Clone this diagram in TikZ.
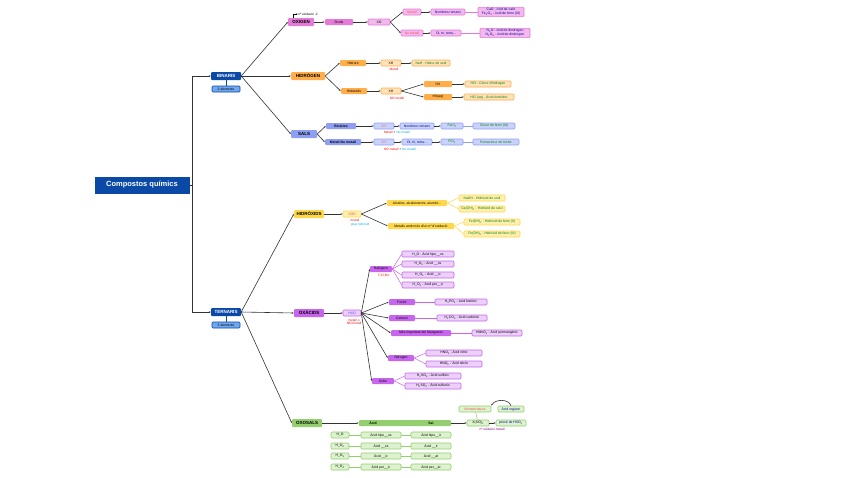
\documentclass[tikz,border=0pt]{standalone}
\usepackage{fontspec}
\setmainfont{Liberation Sans}
\usetikzlibrary{arrows.meta}
\definecolor{bl}{HTML}{0A4AA6}\definecolor{lb}{HTML}{6FA8F0}
\definecolor{pk}{HTML}{E57AD8}\definecolor{pkl}{HTML}{F3B8EE}
\definecolor{or}{HTML}{FFAE4A}\definecolor{orl}{HTML}{FFE2B8}
\definecolor{sa}{HTML}{8E9FF3}\definecolor{sal}{HTML}{C9D2FA}
\definecolor{ye}{HTML}{FFD84A}\definecolor{yel}{HTML}{FFF0B0}
\definecolor{pu}{HTML}{C865EE}\definecolor{pul}{HTML}{EDD0FA}
\definecolor{gr}{HTML}{93CF6E}\definecolor{grl}{HTML}{DDF2CF}
\tikzset{
 x=1pt,y=-1pt,
 main/.style={rounded corners=1pt, inner sep=1.5pt, minimum height=8pt, font=\fontsize{4.5}{5}\selectfont\bfseries},
 s/.style={rounded corners=1pt, inner sep=1pt, minimum height=6pt, line width=0.6pt, font=\fontsize{3.4}{3.8}\selectfont, align=center},
 lab/.style={font=\fontsize{3.2}{3.6}\selectfont, inner sep=0.5pt},
 c/.style={draw=black!80, line width=0.6pt, -{Stealth[length=2pt]}},
 cl/.style={draw=#1, line width=0.5pt},
}
\begin{document}
\begin{tikzpicture}
\useasboundingbox (0,0) rectangle (848,477);
\fill[white] (0,0) rectangle (848,477);
% root
\node[fill=bl,text=white,font=\fontsize{7.5}{8}\selectfont\bfseries,minimum width=95pt,minimum height=17pt,inner sep=1pt] (root) at (142,185) {Compostos químics};
\node[main,fill=bl,text=white,minimum width=30pt] (bin) at (226,76) {BINARIS};
\node[s,fill=lb,draw=bl,minimum width=28pt] (bin2) at (226,89) {2 elements};
\node[main,fill=bl,text=white,minimum width=30pt] (ter) at (226,312) {TERNARIS};
\node[s,fill=lb,draw=bl,minimum width=28pt] (ter2) at (226,325) {3 elements};
\draw[c] (root.east) -- ++(3,0) |- (bin.west);
\draw[c] (root.east) -- ++(3,0) |- (ter.west);
\draw[bl,line width=0.5pt] (bin) -- (bin2); \draw[bl,line width=0.5pt] (ter) -- (ter2);
% OXIGEN
\node[main,fill=pk,minimum width=26pt] (ox) at (301,22) {OXIGEN};
\node[lab] (oxl) at (308,14) {nº oxidació -2};
\draw[line width=0.4pt,-{Stealth[length=1.5pt]}] (ox.north west) ++(5,0) |- (oxl.west);
\node[s,fill=pk,minimum width=28pt] (oxd) at (339,22) {Òxids};
\node[s,fill=pkl,draw=pk,minimum width=22pt] (xo) at (379,22) {XO};
\node[s,fill=pkl,draw=pk,text=red!70,minimum width=18pt] (om) at (412,12) {Metall};
\node[s,fill=pkl,draw=pk,text=red!70,minimum width=22pt] (onm) at (412,33) {No metall};
\node[s,fill=pkl,draw=pk,text=blue!60!black,minimum width=34pt] (on1) at (448,12) {Nombres romans};
\node[s,fill=pkl,draw=pk,text=blue!60!black,minimum width=30pt] (on2) at (446,33) {Di, tri, tetra...};
\node[s,fill=pkl,draw=pk,text=blue!60!black,minimum width=46pt] (oe1) at (501,12) {CaO - òxid de calci\\Fe\textsubscript{2}O\textsubscript{3} - òxid de ferro (III)};
\node[s,fill=pkl,draw=pk,text=blue!60!black,minimum width=50pt] (oe2) at (505,33) {N\textsubscript{2}O - òxid de dinitrogen\\N\textsubscript{2}O\textsubscript{5} - òxid de dinitrogen};
\draw[c] (bin.east) -- (ox.west); \draw[c] (ox) -- (oxd); \draw[c] (oxd) -- (xo);
\draw[c] (xo.east) -- (om.west); \draw[c] (xo.east) -- (onm.west);
\draw[c] (om) -- (on1); \draw[c] (onm) -- (on2);
\draw[cl=pk] (on1) -- (oe1); \draw[cl=pk] (on2) -- (oe2);
% HIDROGEN
\node[main,fill=or,minimum width=34pt] (hi) at (308,76) {HIDRÒGEN};
\node[s,fill=or,minimum width=26pt] (hr) at (353,63) {Hidrurs};
\node[s,fill=orl,draw=or,minimum width=20pt] (xh1) at (391,63) {XH};
\node[lab,text=red] at (394,69) {Metall};
\node[s,fill=orl,draw=or,text=green!50!black,minimum width=38pt] (nah) at (431,63) {NaH - Hidrur de sodi};
\node[s,fill=or,minimum width=26pt] (ha) at (354,91) {Hidràcids};
\node[s,fill=orl,draw=or,minimum width=20pt] (xh2) at (391,91) {XH};
\node[lab,text=red] at (397,98) {NO metall};
\node[s,fill=or,minimum width=28pt] (hx) at (438,84) {HX};
\node[s,fill=or,minimum width=28pt] (hxa) at (438,97) {HX(aq)};
\node[s,fill=orl,draw=or,text=green!50!black,minimum width=46pt] (hcl) at (488,84) {HCl - Clorur d'hidrogen};
\node[s,fill=orl,draw=or,text=green!50!black,minimum width=50pt] (hcla) at (489,97) {HCl (aq) - Àcid clorhídric};
\draw[c] (bin.east) -- (hi.west); \draw[c] (hi.east) -- (hr.west); \draw[c] (hi.east) -- (ha.west);
\draw[c] (hr) -- (xh1); \draw[c] (xh1) -- (nah); \draw[c] (ha) -- (xh2);
\draw[c] (xh2.east) -- (hx.west); \draw[c] (xh2.east) -- (hxa.west);
\draw[c] (hx) -- (hcl); \draw[c] (hxa) -- (hcla);
% SALS
\node[main,fill=sa,minimum width=26pt] (sl) at (304,134) {SALS};
\node[s,fill=sa,minimum width=30pt,font=\fontsize{3.4}{3.8}\selectfont\bfseries] (sb) at (341,126) {Binàries};
\node[s,fill=sa,minimum width=36pt,font=\fontsize{3.4}{3.8}\selectfont\bfseries] (sm) at (343,142) {Metall-No metall};
\node[s,fill=sal,draw=sa,text=red!70,minimum width=20pt] (xy1) at (384,126) {XY};
\node[s,fill=sal,draw=sa,text=red!70,minimum width=20pt] (xy2) at (384,142) {XY};
\node[lab] at (397,132) {\textcolor{red}{Metall} + \textcolor{cyan}{No-metall}};
\node[lab] at (400,149) {\textcolor{red}{NO-metall} + \textcolor{cyan}{No-metall}};
\node[s,fill=sal,draw=sa,text=blue!60!black,minimum width=34pt] (sn1) at (417,126) {Nombres romans};
\node[s,fill=sal,draw=sa,text=blue!60!black,minimum width=30pt] (sn2) at (417,142) {Di, tri, tetra...};
\node[s,fill=sal,draw=sa,text=green!50!black,minimum width=22pt] (fe) at (452,126) {FeCl\textsubscript{3}};
\node[s,fill=sal,draw=sa,text=green!50!black,minimum width=22pt] (pc) at (452,142) {PCl\textsubscript{5}};
\node[s,fill=sal,draw=sa,text=green!50!black,minimum width=42pt] (fen) at (494,126) {Clorur de ferro (III)};
\node[s,fill=sal,draw=sa,text=green!50!black,minimum width=46pt] (pcn) at (496,142) {Pentaclorur de fòsfor};
\draw[c] (bin.east) -- (sl.west); \draw[c] (sl.east) -- (sb.west); \draw[c] (sl.east) -- (sm.west);
\draw[c] (sb) -- (xy1); \draw[c] (sm) -- (xy2); \draw[c] (xy1) -- (sn1); \draw[c] (xy2) -- (sn2);
\draw[c] (sn1) -- (fe); \draw[c] (sn2) -- (pc); \draw[cl=sa] (fe) -- (fen); \draw[cl=sa] (pc) -- (pcn);
% HIDROXIDS
\node[main,fill=ye,minimum width=30pt] (hd) at (309,214) {HIDRÒXIDS};
\node[s,fill=yel,draw=ye,text=red!70,minimum width=18pt] (xoh) at (352,214) {XOH};
\node[lab,text=red] at (355,220) {metall};
\node[lab,text=cyan] at (360,225) {grup hidròxid};
\node[s,fill=ye,minimum width=60pt] (al) at (417,203) {Alcalins, alcalinoterris, alumini...};
\node[s,fill=ye,minimum width=66pt] (mt) at (421,226) {Metalls amb més d'un nº d'oxidació};
\node[s,fill=yel,draw=ye,text=green!50!black,minimum width=46pt] (na) at (482,198) {NaOH - Hidròxid de sodi};
\node[s,fill=yel,draw=ye,text=green!50!black,minimum width=46pt] (ca) at (482,209) {Ca(OH)\textsubscript{2} - Hidròxid de calci};
\node[s,fill=yel,draw=ye,text=green!50!black,minimum width=56pt] (f2) at (492,222) {Fe(OH)\textsubscript{2} - Hidròxid de ferro (II)};
\node[s,fill=yel,draw=ye,text=green!50!black,minimum width=56pt] (f3) at (492,234) {Fe(OH)\textsubscript{3} - Hidròxid de ferro (III)};
\draw[c] (ter.east) -- (hd.west); \draw[c] (hd) -- (xoh);
\draw[c] (xoh.east) -- (al.west); \draw[c] (xoh.east) -- (mt.west);
\draw[cl=ye] (al.east) -- (na.west); \draw[cl=ye] (al.east) -- (ca.west);
\draw[cl=ye] (mt.east) -- (f2.west); \draw[cl=ye] (mt.east) -- (f3.west);
% OXACIDS
\node[main,fill=pu,minimum width=30pt] (oa) at (309,313) {OXÀCIDS};
\node[s,fill=pul,draw=pu,text=blue!70,minimum width=18pt] (hxo) at (352,313) {HXO};
\node[lab,text=red,align=center] at (354,322) {metall o\\NO-metall};
\node[s,fill=pu,minimum width=22pt] (hal) at (381,269) {Halògens};
\node[lab,text=red] at (384,276) {F,Cl,Br,I};
\foreach \n/\y/\t in {h1/254/{H\_O - Àcid hipo\_\_os},h2/264/{H\_O\textsubscript{2} - Àcid \_\_os},h3/275/{H\_O\textsubscript{3} - Àcid \_\_ic},h4/285/{H\_O\textsubscript{4} - Àcid per\_\_ic}}
 {\node[s,fill=pul,draw=pu,minimum width=52pt] (\n) at (428,\y) {\t}; \draw[cl=pu] (hal.east) -- (\n.west);}
\node[s,fill=pu,minimum width=26pt] (fo) at (402,302) {Fòsfor};
\node[s,fill=pul,draw=pu,minimum width=52pt] (fo1) at (461,302) {H\textsubscript{3}PO\textsubscript{4} - àcid fosfòric};
\node[s,fill=pu,minimum width=26pt] (cb) at (402,318) {Carboni};
\node[s,fill=pul,draw=pu,minimum width=50pt] (cb1) at (462,318) {H\textsubscript{2}CO\textsubscript{3} - Àcid carbònic};
\node[s,fill=pu,minimum width=60pt] (mn) at (421,333) {Més important del Manganès};
\node[s,fill=pul,draw=pu,minimum width=50pt] (mn1) at (497,333) {HMnO\textsubscript{4} - Àcid permangànic};
\node[s,fill=pu,minimum width=26pt] (ni) at (401,358) {Nitrogen};
\node[s,fill=pul,draw=pu,minimum width=56pt] (n1) at (454,353) {HNO\textsubscript{3} - Àcid nítric};
\node[s,fill=pul,draw=pu,minimum width=56pt] (n2) at (454,364) {HNO\textsubscript{2} - Àcid nitrós};
\node[s,fill=pu,minimum width=22pt] (so) at (383,381) {Sofre};
\node[s,fill=pul,draw=pu,minimum width=56pt] (s1) at (433,376) {H\textsubscript{2}SO\textsubscript{4} - Àcid sulfúric};
\node[s,fill=pul,draw=pu,minimum width=56pt] (s2) at (433,386) {H\textsubscript{2}SO\textsubscript{3} - Àcid sulfurós};
\draw[c] (ter.east) -- (oa.west); \draw[c] (oa) -- (hxo);
\foreach \n in {hal,fo,cb,mn,ni,so} \draw[c] (hxo.east) -- (\n.west);
\draw[cl=pu] (fo) -- (fo1); \draw[cl=pu] (cb) -- (cb1); \draw[cl=pu] (mn) -- (mn1);
\draw[cl=pu] (ni.east) -- (n1.west); \draw[cl=pu] (ni.east) -- (n2.west);
\draw[cl=pu] (so.east) -- (s1.west); \draw[cl=pu] (so.east) -- (s2.west);
% OXOSALS
\node[main,fill=gr,minimum width=30pt] (os) at (307,423) {OXOSALS};
\node[s,fill=gr,minimum width=92pt] (as) at (405,423) {};
\node[s,font=\fontsize{3.4}{3.8}\selectfont\bfseries] at (373,423) {Àcid};
\node[s,font=\fontsize{3.4}{3.8}\selectfont\bfseries] at (431,423) {Sal};
\node[s,fill=grl,draw=gr,minimum width=22pt] (xx) at (478,423) {X(XO)\textsubscript{n}};
\node[lab,text=violet] at (492,429) {nº oxidació metall};
\node[s,fill=grl,draw=gr,text=blue!60!black,minimum width=30pt] (pr) at (511,423) {prové de HXO\textsubscript{n}};
\node[s,fill=grl,draw=gr,minimum width=32pt] (nm) at (475,409) {\textcolor{red!70}{Nomenclatura}};
\node[s,fill=grl,draw=gr,text=blue!60!black,minimum width=26pt] (ex) at (511,409) {Àcid orgànic};
\draw[c] (os) -- (as); \draw[c] (as) -- (xx); \draw[c] (xx) -- (pr); \draw[cl=gr] (nm) -- (xx);
\draw[c] (ex.north) to[out=110,in=60] (nm.north east);
\foreach \i/\y/\a/\b/\cc in {1/435/{H\_O}/{Àcid hipo\_\_os}/{Àcid hipo\_\_it},2/446/{H\_O\textsubscript{2}}/{Àcid \_\_os}/{Àcid \_\_it},3/456/{H\_O\textsubscript{3}}/{Àcid \_\_ic}/{Àcid \_\_at},4/467/{H\_O\textsubscript{4}}/{Àcid per\_\_ic}/{Àcid per\_\_at}}{
 \node[s,fill=grl,draw=gr,minimum width=18pt] (ga\i) at (340,\y) {\a};
 \node[s,fill=grl,draw=gr,minimum width=40pt] (gb\i) at (381,\y) {\b};
 \node[s,fill=grl,draw=gr,minimum width=40pt] (gc\i) at (431,\y) {\cc};
 \draw[cl=gr] (ga\i) -- (gb\i); \draw[cl=gr] (gb\i) -- (gc\i);}
\draw[c] (ter.east) -- (os.west);
\end{tikzpicture}
\end{document}
